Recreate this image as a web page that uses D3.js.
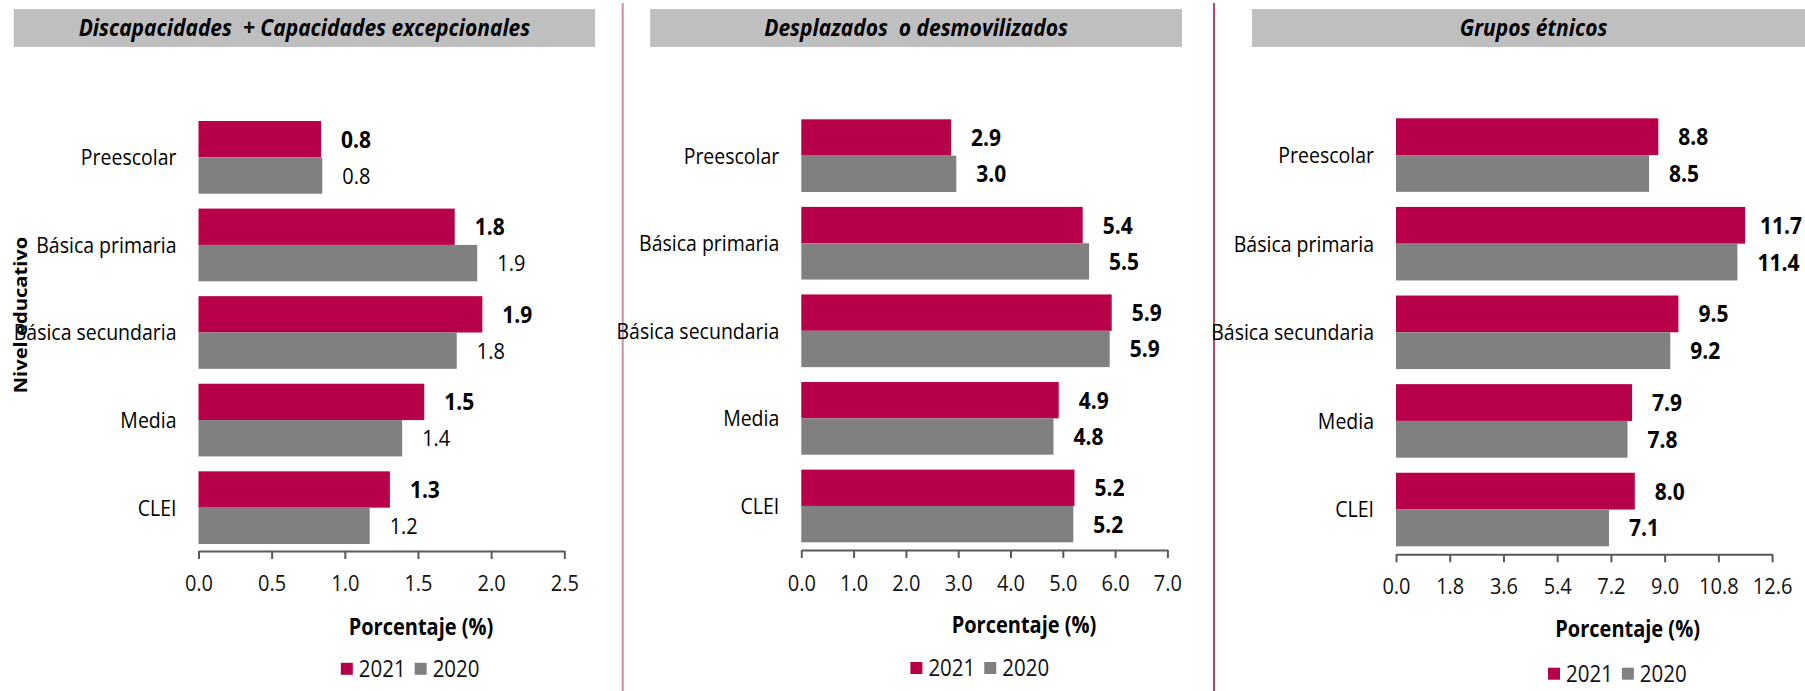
<!DOCTYPE html>
<html><head><meta charset="utf-8">
<script src="https://cdn.jsdelivr.net/npm/d3@7"></script>
<style>
body{margin:0;background:#fff}
svg{display:block}
text{font-family:"Open Sans",sans-serif;white-space:pre}
</style>
</head><body>
<svg id="c" width="1805" height="691"></svg>
<script>
// ---- data ----
const categories = ["Preescolar","Básica primaria","Básica secundaria","Media","CLEI"];
const seriesNames = ["2021","2020"];
const panelTitles = ["Discapacidades  + Capacidades excepcionales","Desplazados  o desmovilizados","Grupos étnicos"];
const disc2021 = [0.838, 1.751, 1.94, 1.543, 1.308];
const disc2020 = [0.846, 1.905, 1.765, 1.392, 1.17];
const desp2021 = [2.864, 5.38, 5.935, 4.922, 5.224];
const desp2020 = [2.964, 5.503, 5.897, 4.822, 5.201];
const etn2021 = [8.787, 11.696, 9.461, 7.91, 8.0];
const etn2020 = [8.479, 11.438, 9.19, 7.756, 7.136];
const ticksDisc = [0, 0.5, 1.0, 1.5, 2.0, 2.5];
const ticksDesp = [0, 1, 2, 3, 4, 5, 6, 7];
const ticksEtn = [0, 1.8, 3.6, 5.4, 7.2, 9.0, 10.8, 12.6];
const xAxisTitle = "Porcentaje (%)";
const yAxisTitle = "Nivel educativo";

// ---- style / layout ----
const colors = {"2021":"#b8004a","2020":"#808080"};
const SY = 1.12;
const fmt = d3.format(".1f");
const panels = [
  {title:panelTitles[0], vals:{"2021":disc2021,"2020":disc2020}, ticks:ticksDisc, bold2020:false,
   x0:198.5, x1:564.3, top:121, bottom:544, axisY:551, tickY:583, box:[13.8,595.1], atX:421, atY:627, legX:340.8, legY:668.8, maxX:612},
  {title:panelTitles[1], vals:{"2021":desp2021,"2020":desp2020}, ticks:ticksDesp, bold2020:true,
   x0:801.3, x1:1167.4, top:119.3, bottom:542.3, axisY:550, tickY:582.5, box:[650.2,1182], atX:1024, atY:625, legX:910.4, legY:668, maxX:1205},
  {title:panelTitles[2], vals:{"2021":etn2021,"2020":etn2020}, ticks:ticksEtn, bold2020:true,
   x0:1396, x1:1772.1, top:118.3, bottom:546.3, axisY:554.3, tickY:586, box:[1252,1815], atX:1627.6, atY:629, legX:1548, legY:673.7, maxX:1802}
];

const svg = d3.select("#c");

function txt(g, x, y, str, o) {
  o = o || {};
  return g.append("text")
    .attr("transform", `translate(${x},${y}) scale(1,${SY})`)
    .attr("dy", "0.36em")
    .attr("text-anchor", o.anchor || "start")
    .style("font-size", (o.size || 18) + "px")
    .style("font-weight", o.weight || 400)
    .style("font-style", o.style || "normal")
    .attr("fill", o.fill || "#000")
    .text(str);
}

// dividers
svg.append("line").attr("x1",622.7).attr("x2",622.7).attr("y1",3).attr("y2",691)
  .attr("stroke","#d48aa7").attr("stroke-width",2);
svg.append("line").attr("x1",1214).attr("x2",1214).attr("y1",3).attr("y2",691)
  .attr("stroke","#c2406d").attr("stroke-width",2);

panels.forEach(p => {
  const g = svg.append("g");
  // title box
  g.append("rect").attr("x",p.box[0]).attr("y",9).attr("width",p.box[1]-p.box[0]).attr("height",38).attr("fill","#bfbfbf");
  txt(g, (p.box[0]+p.box[1])/2, 28, p.title, {anchor:"middle", size:21, weight:700, style:"italic"});

  const x = d3.scaleLinear().domain([p.ticks[0], p.ticks[p.ticks.length-1]]).range([p.x0, p.x1]);
  const y = d3.scaleBand().domain(categories).range([p.top, p.bottom]).paddingInner(0.17).paddingOuter(0);
  const ys = d3.scaleBand().domain(seriesNames).range([0, y.bandwidth()]);

  // bars
  seriesNames.forEach(s => {
    const data = categories.map((c,i) => ({c, v:p.vals[s][i]}));
    g.selectAll(null).data(data).enter().append("rect")
      .attr("x", x(0))
      .attr("y", d => y(d.c) + ys(s))
      .attr("width", d => x(d.v) - x(0))
      .attr("height", ys.bandwidth())
      .attr("fill", colors[s]);
    data.forEach(d => {
      const bold = s === "2021" || p.bold2020;
      const cy = y(d.c) + ys(s) + ys.bandwidth()/2;
      const t = txt(g, x(d.v) + 20, cy, fmt(d.v),
        {size: bold ? 21 : 20, weight: bold ? 700 : 400});
      const w = t.node().getComputedTextLength();
      if (x(d.v) + 20 + w > p.maxX) {
        t.attr("transform", `translate(${p.maxX - w},${cy}) scale(1,${SY})`);
      }
    });
  });

  // category labels
  categories.forEach(c => {
    txt(g, p.x0 - 22, y(c) + y.bandwidth()/2, c, {anchor:"end", size:19.5});
  });

  // x axis
  const ax = g.append("g").attr("transform", `translate(0,${p.axisY})`)
    .call(d3.axisBottom(x).tickValues(p.ticks).tickSize(8).tickSizeOuter(0).tickFormat(fmt));
  ax.select(".domain").attr("stroke","#595959").attr("stroke-width",2);
  ax.selectAll(".tick line").attr("stroke","#595959").attr("stroke-width",2);
  ax.selectAll(".tick text")
    .attr("y", null).attr("dy","0.36em")
    .attr("transform", `translate(0,${p.tickY - p.axisY}) scale(1,${SY})`)
    .attr("fill","#111")
    .style("font-size","20px")
    .style("font-family","'Open Sans',sans-serif");

  // axis title
  txt(g, p.atX, p.atY, xAxisTitle, {anchor:"middle", size:20, weight:700});

  // legend
  let lx = p.legX;
  seriesNames.forEach(s => {
    g.append("rect").attr("x", lx).attr("y", p.legY - 6).attr("width", 12).attr("height", 12).attr("fill", colors[s]);
    const t = txt(g, lx + 18, p.legY, s, {size:20.5, fill:"#111"});
    lx = lx + 18 + t.node().getComputedTextLength() + 9;
  });
});

// y axis title
svg.append("text")
  .attr("transform", `translate(21,315) rotate(-90) scale(${SY},1)`)
  .attr("dy","0.36em").attr("text-anchor","middle")
  .style("font-size","18px").style("font-weight",700)
  .text(yAxisTitle);
</script>
</body></html>
